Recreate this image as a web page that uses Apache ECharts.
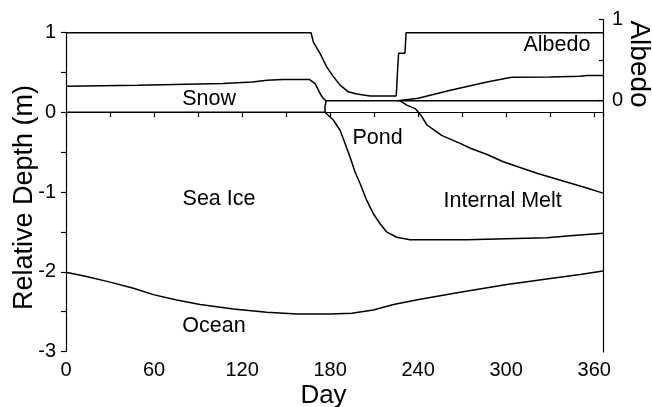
<!DOCTYPE html>
<html>
<head>
<meta charset="utf-8">
<script src="https://cdn.jsdelivr.net/npm/echarts@6/dist/echarts.min.js"></script>
<style>
  html, body { margin: 0; padding: 0; background: #fff; }
  #chart { width: 652px; height: 407px; }
</style>
</head>
<body>
<div id="chart"></div>
<script>
// Layer boundaries through the year, [day, relative depth in m]
const snowSurface = [[0,0.327],[49,0.339],[107,0.36],[127,0.38],[137,0.40],[148,0.41],[166,0.41],[167,0.402],[169.8,0.36],[173.2,0.235],[175.4,0.172],[177.3,0.143],[366,0.143]];
const iceSurface = [[0,0],[176.6,0]];
const pondEdge = [[177.3,0.143],[176.5,0.07],[176.6,0.0]];
const pondBottom = [[176.6,0.0],[177.7,-0.016],[182.3,-0.10],[186.8,-0.226],[190.2,-0.393],[193.6,-0.56],[197,-0.75],[200.5,-0.896],[205,-1.106],[209.5,-1.273],[214.1,-1.398],[218.7,-1.504],[225.5,-1.567],[234.5,-1.60],[273,-1.60],[300,-1.587],[327.7,-1.574],[343.6,-1.55],[366,-1.517]];
const newSnow = [[226,0.143],[240,0.175],[262,0.276],[287,0.38],[302.7,0.436],[305,0.44],[330,0.443],[350,0.452],[355,0.46],[366,0.462]];
const internalMelt = [[227.7,0.143],[232.3,0.09],[238,0.046],[242,-0.04],[246,-0.16],[251,-0.225],[256,-0.29],[268.6,-0.39],[276,-0.455],[287,-0.53],[298,-0.62],[309,-0.69],[321,-0.765],[333,-0.83],[344,-0.89],[355,-0.95],[366,-1.014]];
const iceBottom = [[0,-2.006],[14,-2.06],[30,-2.13],[46,-2.207],[59.5,-2.287],[75.5,-2.353],[91.4,-2.412],[114,-2.466],[136.8,-2.509],[157.3,-2.529],[180,-2.529],[194.8,-2.52],[209.5,-2.48],[223.2,-2.41],[241.4,-2.345],[268.6,-2.257],[300.5,-2.161],[327.7,-2.09],[350.4,-2.035],[366,-1.99]];

// Surface albedo, [day, albedo]
const albedo = [[0,0.836],[167,0.836],[168.6,0.72],[173.2,0.577],[177.7,0.411],[182.3,0.288],[186.8,0.185],[192.5,0.102],[198.2,0.074],[207.3,0.05],[225,0.05],[225.3,0.12],[226,0.37],[226.7,0.58],[231,0.58],[231.8,0.836],[366,0.836]];

// Region names placed inside the layers, [day, depth]
const regionNames = ['Snow', 'Sea Ice', 'Pond', 'Internal Melt', 'Albedo', 'Ocean'];
const regionAt = [[97.5,0.163],[104.3,-1.093],[212.4,-0.327],[297.6,-1.118],[334.6,0.842],[100.9,-2.682]];

const dayTicks = [0, 60, 120, 180, 240, 300, 360];
const depthTicks = [-3, -2, -1, 0, 1];
const albedoTicks = [0, 1];

const FONT = 'Liberation Sans, Arial, Helvetica, sans-serif';
const INK = '#000';

const chart = echarts.init(document.getElementById('chart'), null, { renderer: 'canvas' });

const lineSeries = (data) => ({
  type: 'line',
  xAxisIndex: 0,
  yAxisIndex: 0,
  data: data,
  showSymbol: false,
  symbol: 'none',
  silent: true,
  lineStyle: { color: INK, width: 1.5 },
  z: 3
});

chart.setOption({
  animation: false,
  backgroundColor: '#fff',
  grid: [
    { left: 66, right: 49, top: 32.5, bottom: 55.5, containLabel: false, outerBoundsMode: 'none' },
    { left: 66, right: 49, top: 19.5, bottom: 55, containLabel: false, outerBoundsMode: 'none' }
  ],
  xAxis: [
    {
      type: 'value', gridIndex: 0, min: 0, max: 366, interval: 30,
      name: 'Day', nameLocation: 'middle', nameGap: 31, nameMoveOverlap: false,
      nameTextStyle: { fontFamily: FONT, fontSize: 26, color: INK, padding: [0, 22, 0, 0] },
      axisLine: { show: true, lineStyle: { color: INK, width: 1.2 } },
      axisTick: { show: true, length: 5, lineStyle: { color: INK, width: 1.2 } },
      axisLabel: {
        fontFamily: FONT, fontSize: 20, color: INK, margin: 9,
        formatter: v => dayTicks.includes(v) ? String(v) : ''
      },
      splitLine: { show: false }
    },
    {
      type: 'value', gridIndex: 1, min: 0, max: 366, show: false
    }
  ],
  yAxis: [
    {
      type: 'value', gridIndex: 0, min: -3, max: 1, interval: 0.5,
      name: 'Relative Depth (m)', nameLocation: 'middle', nameGap: 28, nameRotate: 90, nameMoveOverlap: false,
      nameTextStyle: { fontFamily: FONT, fontSize: 27, color: INK, padding: [0, 11, 0, 0] },
      axisLine: { show: true, lineStyle: { color: INK, width: 1.2 } },
      axisTick: { show: true, length: 5, lineStyle: { color: INK, width: 1.2 } },
      axisLabel: {
        fontFamily: FONT, fontSize: 20, color: INK, margin: 10,
        formatter: v => depthTicks.includes(v) ? String(v) : ''
      },
      splitLine: { show: false }
    },
    {
      type: 'value', gridIndex: 1, position: 'right', min: -3.13, max: 1,
      axisLine: { show: true, onZero: false, lineStyle: { color: INK, width: 1.2 } },
      axisTick: { show: true, inside: true, length: 4, customValues: [0, 0.5, 1], lineStyle: { color: INK, width: 1.2 } },
      axisLabel: { fontFamily: FONT, fontSize: 20, color: INK, margin: 9, customValues: albedoTicks },
      splitLine: { show: false }
    }
  ],
  graphic: [
    {
      type: 'text', x: 639, y: 64, rotation: -Math.PI / 2,
      style: { text: 'Albedo', font: '28px ' + FONT, fill: INK, align: 'center', verticalAlign: 'middle' }
    }
  ],
  series: [
    lineSeries(snowSurface),
    lineSeries(iceSurface),
    lineSeries(pondEdge),
    lineSeries(pondBottom),
    lineSeries(newSnow),
    lineSeries(internalMelt),
    lineSeries(iceBottom),
    {
      type: 'line', xAxisIndex: 1, yAxisIndex: 1, data: albedo,
      showSymbol: false, symbol: 'none', silent: true,
      lineStyle: { color: INK, width: 1.5 }, z: 3
    },
    {
      type: 'scatter', xAxisIndex: 0, yAxisIndex: 0, symbolSize: 0, silent: true,
      itemStyle: { opacity: 1 },
      data: regionNames.map((n, i) => ({ name: n, value: regionAt[i] })),
      label: {
        show: true, position: 'inside', formatter: p => p.name,
        fontFamily: FONT, fontSize: 21.5, color: INK, opacity: 1
      },
      z: 4
    }
  ]
});
</script>
</body>
</html>
